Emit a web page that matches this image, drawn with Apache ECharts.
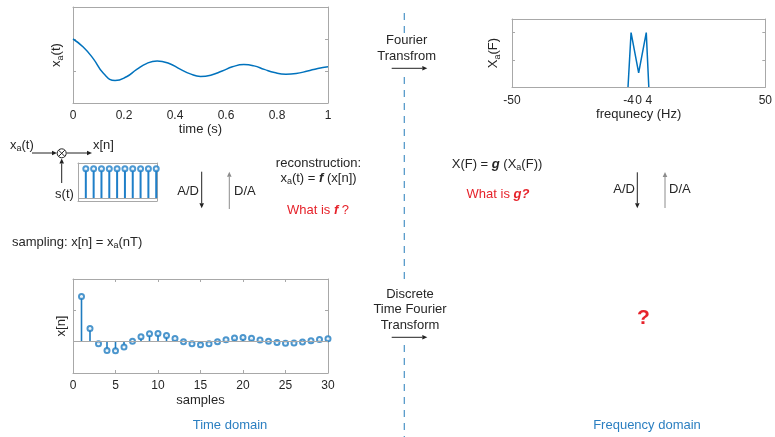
<!DOCTYPE html>
<html><head><meta charset="utf-8">
<script src="https://cdn.jsdelivr.net/npm/echarts@6/dist/echarts.min.js"></script>
<style>html,body{margin:0;padding:0;background:#fff}#c{width:775px;height:437px}</style>
</head><body><div id="c"></div>
<script>
// ---- data ----
const timeS = [0,0.04,0.08,0.12,0.165,0.21,0.25,0.29,0.33,0.375,0.42,0.46,0.5,0.54,0.585,0.625,0.67,0.71,0.75,0.79,0.835,0.875,0.92,0.96,1.0];
const xaValues = [1.0,0.75,0.38,-0.08,-0.30,-0.18,0.05,0.24,0.31,0.24,0.06,-0.09,-0.17,-0.13,0.0,0.13,0.20,0.16,0.05,-0.05,-0.10,-0.08,0.0,0.08,0.13];
const timeTicks = [0,0.2,0.4,0.6,0.8,1];
const freqHz = [-4.2,-3,0,3,4];
const specValues = [0,2,0.52,2,0];
const freqTicks = [-50,-4,0,4,50];
const sampleN = [1,2,3,4,5,6,7,8,9,10,11,12,13,14,15,16,17,18,19,20,21,22,23,24,25,26,27,28,29,30];
const sampleValues = [1.44,0.42,-0.07,-0.28,-0.29,-0.17,0.01,0.16,0.25,0.26,0.20,0.10,0.0,-0.07,-0.10,-0.07,0.0,0.06,0.12,0.13,0.11,0.05,0.01,-0.03,-0.05,-0.04,-0.01,0.03,0.07,0.09];
const iconN = [1,2,3,4,5,6,7,8,9,10];
const iconValues = [1,1,1,1,1,1,1,1,1,1];

const FONT = 'Liberation Sans, Arial, Helvetica, sans-serif';
const BLUE = '#0072BD';
const BOX = '#a8a8a8';
const TXT = '#262626';

function xAx(grid, min, max, o) {
  o = o || {};
  return Object.assign({
    type:'value', gridIndex:grid, min:min, max:max, position:'bottom',
    axisLine:{show:true, onZero:false, lineStyle:{color:BOX, width:1}},
    axisTick:{show:false}, axisLabel:{show:false}, splitLine:{show:false}
  }, o);
}
function yAx(grid, min, max, o) {
  o = o || {};
  return Object.assign({
    type:'value', gridIndex:grid, min:min, max:max, position:'left',
    axisLine:{show:true, onZero:false, lineStyle:{color:BOX, width:1}},
    axisTick:{show:false}, axisLabel:{show:false}, splitLine:{show:false}
  }, o);
}
const inTick = {show:true, inside:true, length:3, lineStyle:{color:BOX}};
const lbl = (margin) => ({show:true, color:TXT, fontSize:12, fontFamily:FONT, margin:margin});
const nameSt = {color:TXT, fontSize:13, fontFamily:FONT};
const subRich = {n:{fontSize:13, color:TXT, fontFamily:FONT}, s:{fontSize:9, color:TXT, fontFamily:FONT, padding:[8,0,0,0]}};

const xAxis = [
  xAx(0, 0, 1, {interval:0.2, axisLabel:Object.assign(lbl(7),{customValues:timeTicks}), name:'time (s)', nameLocation:'middle', nameGap:20, nameTextStyle:nameSt}),
  xAx(0, 0, 1, {position:'top'}),
  xAx(1, -50, 50, {axisLabel:Object.assign(lbl(8),{customValues:freqTicks}), name:'frequnecy (Hz)', nameLocation:'middle', nameGap:21, nameTextStyle:nameSt}),
  xAx(1, -50, 50, {position:'top'}),
  xAx(2, 0, 30, {interval:5, axisTick:inTick, axisLabel:lbl(7), name:'samples', nameLocation:'middle', nameGap:21, nameTextStyle:nameSt}),
  xAx(2, 0, 30, {interval:5, position:'top', axisTick:inTick}),
  xAx(3, 0, 10.1, {}),
  xAx(3, 0, 10.1, {position:'top'})
];
const yAxis = [
  yAx(0, -1, 2, {interval:1, axisTick:inTick, name:'{n|x}{s|a}{n|(t)}', nameLocation:'middle', nameGap:8, nameTextStyle:{rich:subRich}}),
  yAx(0, -1, 2, {interval:1, position:'right', axisTick:inTick}),
  yAx(1, 0, 2.5, {interval:1, axisTick:inTick, name:'{n|X}{s|a}{n|(F)}', nameLocation:'middle', nameGap:10, nameTextStyle:{rich:subRich}}),
  yAx(1, 0, 2.5, {interval:1, position:'right', axisTick:inTick}),
  yAx(2, -1, 2, {interval:1, axisTick:inTick, name:'x[n]', nameLocation:'middle', nameGap:5, nameTextStyle:nameSt}),
  yAx(2, -1, 2, {interval:1, position:'right', axisTick:inTick}),
  yAx(3, -0.1, 1.2, {}),
  yAx(3, -0.1, 1.2, {position:'right'})
];

const zip = (a,b) => a.map((v,i)=>[v,b[i]]);

const series = [
  {type:'line', xAxisIndex:0, yAxisIndex:0, data:zip(timeS, xaValues), smooth:0.5, showSymbol:false, lineStyle:{color:BLUE, width:1.5}},
  {type:'line', xAxisIndex:2, yAxisIndex:2, data:zip(freqHz, specValues), showSymbol:false, clip:true, lineStyle:{color:BLUE, width:1.5}},
  {type:'bar', xAxisIndex:4, yAxisIndex:4, data:zip(sampleN, sampleValues), barWidth:1.6, itemStyle:{color:'#1f7cc0'}},
  {type:'scatter', xAxisIndex:4, yAxisIndex:4, data:zip(sampleN, sampleValues), symbol:'emptyCircle', symbolSize:5,
    itemStyle:{color:'#1f7cc0', borderColor:'#1f7cc0', borderWidth:1.5},
    markLine:{silent:true, symbol:'none', label:{show:false}, lineStyle:{color:BOX, type:'solid', width:1}, data:[{yAxis:0}]}},
  {type:'bar', xAxisIndex:6, yAxisIndex:6, data:zip(iconN, iconValues), barWidth:2, itemStyle:{color:'#1f7fc8'}},
  {type:'scatter', xAxisIndex:6, yAxisIndex:6, data:zip(iconN, iconValues), symbol:'emptyCircle', symbolSize:5,
    itemStyle:{color:'#1f7fc8', borderColor:'#1f7fc8', borderWidth:1.5},
    markLine:{silent:true, symbol:'none', label:{show:false}, lineStyle:{color:BOX, type:'solid', width:1}, data:[{yAxis:0}]}}
];

// ---- annotations ----
const G = [];
function txt(x, y, text, o) {
  o = o || {};
  const st = Object.assign({text:text, fontSize:13, fontFamily:FONT, fill:TXT,
    align:o.align||'left', verticalAlign:'middle', textAlign:o.align||'left', textVerticalAlign:'middle'}, o.style||{});
  if (o.rich) st.rich = o.rich;
  G.push({type:'text', x:x, y:y, style:st, silent:true});
}
function arrow(x1,y1,x2,y2,color) {
  const dx=x2-x1, dy=y2-y1, L=Math.hypot(dx,dy), ux=dx/L, uy=dy/L, hl=5, hw=2.3;
  const bx=x2-ux*hl, by=y2-uy*hl;
  G.push({type:'line', shape:{x1:x1,y1:y1,x2:bx,y2:by}, style:{stroke:color, lineWidth:1}, silent:true});
  G.push({type:'polygon', shape:{points:[[x2,y2],[bx-uy*hw,by+ux*hw],[bx+uy*hw,by-ux*hw]]}, style:{fill:color}, silent:true});
}
const R = (c) => ({
  n:{fontSize:13, fontFamily:FONT, fill:c, color:c},
  s:{fontSize:9, fontFamily:FONT, fill:c, color:c, padding:[8,0,0,0]},
  b:{fontSize:13, fontFamily:FONT, fill:c, color:c, fontWeight:'bold', fontStyle:'italic'}
});
const RED = '#e6232b';
const DBLUE = '#2b7fc1';

// dashed divider
[[13,35],[77,283],[345,437]].forEach(s => G.push({type:'line', shape:{x1:404.3,y1:s[0],x2:404.3,y2:s[1]}, style:{stroke:'#4a93c6', lineWidth:1.2, lineDash:[7,6]}, silent:true}));

// sampling block
txt(10, 145, '{n|x}{s|a}{n|(t)}', {rich:R(TXT)});
arrow(32,153,57,153,'#222');
G.push({type:'circle', shape:{cx:61.7, cy:153.3, r:4.5}, style:{stroke:'#222', fill:'none', lineWidth:1}, silent:true});
G.push({type:'line', shape:{x1:58.6,y1:150.2,x2:64.8,y2:156.4}, style:{stroke:'#222', lineWidth:1}, silent:true});
G.push({type:'line', shape:{x1:64.8,y1:150.2,x2:58.6,y2:156.4}, style:{stroke:'#222', lineWidth:1}, silent:true});
arrow(66.5,153,92,153,'#222');
arrow(61.7,183,61.7,158.5,'#222');
txt(93, 145, 'x[n]');
txt(64.5, 194, 's(t)', {align:'center'});

txt(199, 191, 'A/D', {align:'right'});
arrow(201.7,171.7,201.7,208.3,'#222');
arrow(229.3,209,229.3,171.7,'#8c8c8c');
txt(234, 191, 'D/A');

txt(318.5, 163, 'reconstruction:', {align:'center'});
txt(318.5, 178, '{n|x}{s|a}{n|(t) = }{b|f}{n| (x[n])}', {align:'center', rich:R(TXT)});
txt(318, 210, '{n|What is }{b|f}{n| ?}', {align:'center', rich:R(RED), style:{fill:RED}});
txt(12, 242, '{n|sampling: x[n] = x}{s|a}{n|(nT)}', {rich:R(TXT)});

// transforms
txt(406.7, 40.7, 'Fourier', {align:'center'});
txt(406.7, 56.7, 'Transfrom', {align:'center'});
arrow(391.7,68.3,427.3,68.3,'#222');
txt(410, 294, 'Discrete', {align:'center'});
txt(410, 309.5, 'Time Fourier', {align:'center'});
txt(410, 325, 'Transform', {align:'center'});
arrow(391.7,337.3,427.3,337.3,'#222');

// frequency side
txt(497, 164, '{n|X(F) = }{b|g}{n| (X}{s|a}{n|(F))}', {align:'center', rich:R(TXT)});
txt(498, 194.5, '{n|What is }{b|g?}', {align:'center', rich:R(RED), style:{fill:RED}});
txt(635, 189.5, 'A/D', {align:'right'});
arrow(637.3,172.3,637.3,208.3,'#222');
arrow(665,208,665,172,'#8c8c8c');
txt(669, 189.5, 'D/A');
txt(643.5, 318.5, '?', {align:'center', style:{fill:RED, fontSize:21, fontWeight:'bold'}});

txt(230, 425, 'Time domain', {align:'center', style:{fill:DBLUE}});
txt(647, 425, 'Frequency domain', {align:'center', style:{fill:DBLUE}});

const option = {
  animation:false,
  backgroundColor:'#fff',
  textStyle:{fontFamily:FONT},
  grid:[
    {left:73, top:7, width:255, height:96},
    {left:512, top:19, width:254, height:68},
    {left:73, top:279, width:255, height:94},
    {left:78, top:163, width:79, height:38}
  ],
  xAxis:xAxis, yAxis:yAxis, series:series,
  graphic:{elements:G}
};
const chart = echarts.init(document.getElementById('c'), null, {renderer:'canvas'});
chart.setOption(option);
</script></body></html>
